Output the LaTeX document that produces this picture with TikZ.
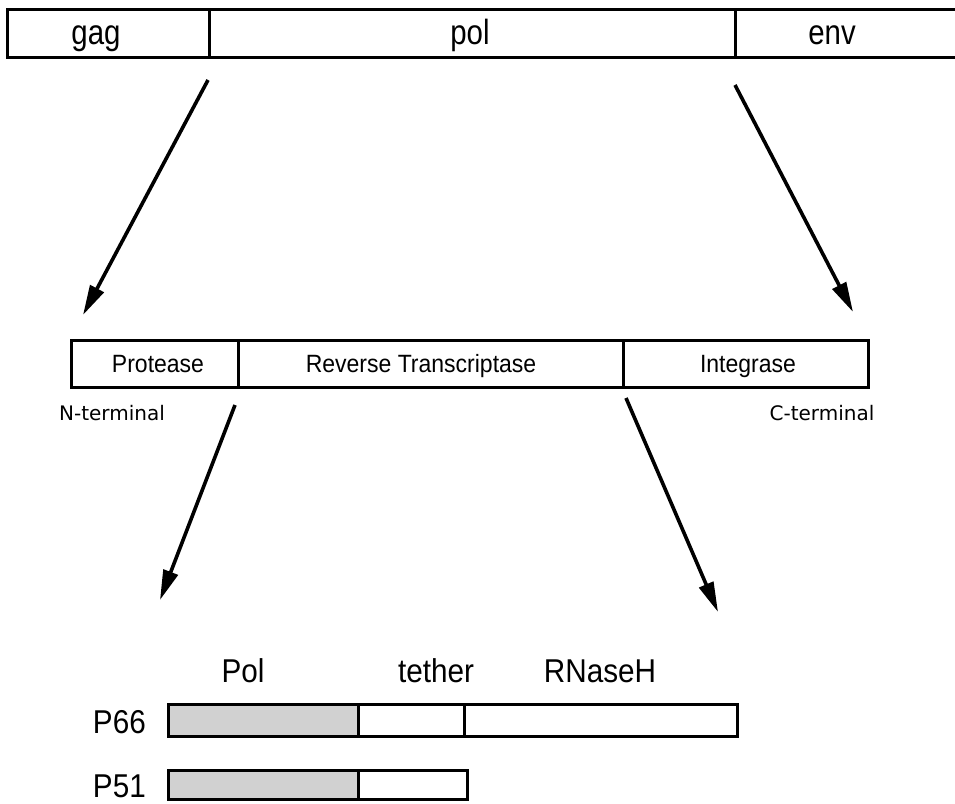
\documentclass[tikz,border=0pt]{standalone}
\usepackage{fontspec}
\setmainfont{Liberation Sans}
\newfontfamily\narrowf[FakeStretch=0.84]{Liberation Sans}
\newfontfamily\midf[FakeStretch=0.92]{Liberation Sans}
\newfontfamily\botf[FakeStretch=0.9]{Liberation Sans}
\newfontfamily\dejavu{DejaVu Sans}
\usetikzlibrary{arrows.meta}
\tikzset{
  cell/.style={draw=black, line width=3pt, inner sep=0pt, rectangle},
  shaded/.style={cell, fill=black!18},
  bigarrow/.style={line width=3.6pt, -{Triangle[length=30pt,width=15pt]}},
  toplabel/.style={anchor=base, inner sep=0pt, font=\narrowf\fontsize{35}{36}\selectfont},
  midlabel/.style={anchor=base, inner sep=0pt, font=\midf\fontsize{25}{28}\selectfont},
  termlabel/.style={anchor=base, inner sep=0pt, font=\dejavu\fontsize{20}{22}\selectfont},
  botlabel/.style={anchor=base, inner sep=0pt, font=\botf\fontsize{33}{36}\selectfont},
}
\begin{document}
\begin{tikzpicture}[x=1pt,y=-1pt]
\useasboundingbox (0,0) rectangle (955,803);
% top bar
\node[cell, minimum width=202, minimum height=48] (gagbox) at (108,33) {};
\node[cell, minimum width=526, minimum height=48] (polbox) at (472,33) {};
\node[cell, minimum width=240, minimum height=48] (envbox) at (855,33) {};
\node[toplabel] (gag) at (96,44) {gag};
\node[toplabel] (pol) at (470,44) {pol};
\node[toplabel] (env) at (832,44) {env};
% middle bar
\node[cell, minimum width=167, minimum height=47] (protbox) at (154.5,363.5) {};
\node[cell, minimum width=385, minimum height=47] (rtbox) at (430.5,363.5) {};
\node[cell, minimum width=245, minimum height=47] (intbox) at (745.5,363.5) {};
\node[midlabel] (prot) at (158,372) {Protease};
\node[midlabel] (rt) at (421,372) {Reverse Transcriptase};
\node[midlabel] (int) at (748,372) {Integrase};
\node[termlabel] (nterm) at (112,420) {N-terminal};
\node[termlabel] (cterm) at (822,420) {C-terminal};
% bottom bars
\node[shaded, minimum width=190, minimum height=32] (p66pol) at (263,720.5) {};
\node[cell, minimum width=106, minimum height=32] (p66teth) at (411,720.5) {};
\node[cell, minimum width=273, minimum height=32] (p66rnh) at (600.5,720.5) {};
\node[shaded, minimum width=190, minimum height=29] (p51pol) at (263,784.5) {};
\node[cell, minimum width=109, minimum height=29] (p51teth) at (412.5,784.5) {};
\node[botlabel] (pollab) at (243,682) {Pol};
\node[botlabel] (tethlab) at (436,682) {tether};
\node[botlabel] (rnhlab) at (600,682) {RNaseH};
\node[botlabel, anchor=base east] (p66) at (146,733) {P66};
\node[botlabel, anchor=base east] (p51) at (146,797) {P51};
% arrows
\coordinate (a1s) at (208,80);
\coordinate (a1e) at (83,315);
\coordinate (a2s) at (735,85);
\coordinate (a2e) at (853,312);
\coordinate (a3s) at (235,405);
\coordinate (a3e) at (160,600);
\coordinate (a4s) at (626,398);
\coordinate (a4e) at (718,612);
\draw[bigarrow] (a1s) -- (a1e);
\draw[bigarrow] (a2s) -- (a2e);
\draw[bigarrow] (a3s) -- (a3e);
\draw[bigarrow] (a4s) -- (a4e);
\end{tikzpicture}
\end{document}
